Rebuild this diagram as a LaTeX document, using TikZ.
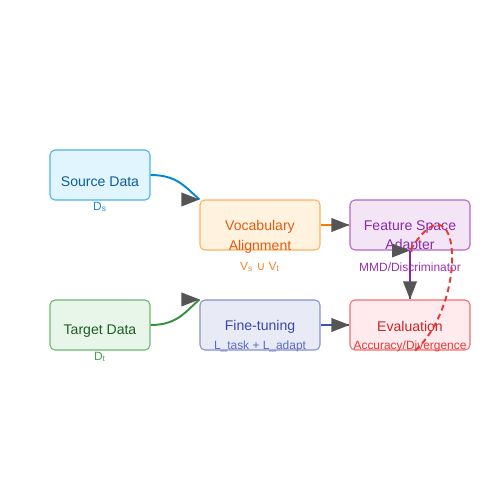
\documentclass[tikz,border=0pt]{standalone}
\usepackage{fontspec}
\setmainfont{Liberation Sans}
\newfontfamily\symfont{DejaVu Sans}
\usetikzlibrary{calc}
\definecolor{srcfill}{HTML}{E1F5FE}\definecolor{srcdraw}{HTML}{4FB0E6}\definecolor{srctxt}{HTML}{0D5C9A}\definecolor{srclab}{HTML}{1E88D6}\definecolor{srcline}{HTML}{0288D1}
\definecolor{vocfill}{HTML}{FFF3E0}\definecolor{vocdraw}{HTML}{FFB060}\definecolor{voctxt}{HTML}{E65A10}\definecolor{voclab}{HTML}{F5842A}\definecolor{vocline}{HTML}{F57C00}
\definecolor{fsafill}{HTML}{F3E5F5}\definecolor{fsadraw}{HTML}{B565C8}\definecolor{fsatxt}{HTML}{8A2BA8}\definecolor{fsalab}{HTML}{9C2FB0}\definecolor{fsaline}{HTML}{8E24AA}
\definecolor{tgtfill}{HTML}{E8F5E9}\definecolor{tgtdraw}{HTML}{6DB870}\definecolor{tgttxt}{HTML}{1E5E22}\definecolor{tgtlab}{HTML}{43A047}\definecolor{tgtline}{HTML}{388E3C}
\definecolor{ftfill}{HTML}{E8EAF6}\definecolor{ftdraw}{HTML}{8791D0}\definecolor{fttxt}{HTML}{3949AB}\definecolor{ftlab}{HTML}{5C6BC0}\definecolor{ftline}{HTML}{3F51B5}
\definecolor{evfill}{HTML}{FFEBEE}\definecolor{evdraw}{HTML}{EF6F6F}\definecolor{evtxt}{HTML}{C62828}\definecolor{evlab}{HTML}{E53935}\definecolor{evline}{HTML}{E53935}
\definecolor{headgray}{HTML}{555555}
\begin{document}
\begin{tikzpicture}[x=0.02cm,y=-0.02cm,
  box/.style={draw, rounded corners=2.8pt, line width=0.6pt, minimum width=2cm, minimum height=1cm, inner sep=0pt},
  wide/.style={minimum width=2.4cm},
  maintext/.style={font=\fontsize{8}{11.3}\selectfont, align=center, inner sep=0pt},
  sublabel/.style={font=\fontsize{6.8}{8}\selectfont, inner sep=0pt},
  head/.style={fill=headgray, draw=none},
  conn/.style={line width=1.1pt}]
\useasboundingbox (0,0) rectangle (500,500);
% boxes
\node[box, fill=srcfill, draw=srcdraw] (src) at (100,175) {};
\node[box, wide, fill=vocfill, draw=vocdraw] (voc) at (260,225) {};
\node[box, wide, fill=fsafill, draw=fsadraw] (fsa) at (410,225) {};
\node[box, fill=tgtfill, draw=tgtdraw] (tgt) at (100,325) {};
\node[box, wide, fill=ftfill, draw=ftdraw] (ft) at (260,325) {};
\node[box, wide, fill=evfill, draw=evdraw] (ev) at (410,325) {};
% texts
\node[maintext, text=srctxt] (srct) at (100,181.5) {Source Data};
\node[maintext, text=voctxt] (voct) at (260,236.5) {Vocabulary\\Alignment};
\node[maintext, text=fsatxt] (fsat) at (410,236.5) {Feature Space\\Adapter};
\node[maintext, text=tgttxt] (tgtt) at (100,331.5) {Target Data};
\node[maintext, text=fttxt] (ftt) at (260,326.5) {Fine-tuning};
\node[maintext, text=evtxt] (evt) at (410,326.5) {Evaluation};
% sub labels
\node[sublabel, text=srclab] (srcl) at (100,207) {D\textsubscript{s}};
\node[sublabel, text=voclab] (vocl) at (260,267) {V\textsubscript{s} {\symfont ∪} V\textsubscript{t}};
\node[sublabel, text=fsalab] (fsal) at (410,267) {MMD/Discriminator};
\node[sublabel, text=tgtlab] (tgtl) at (100,357) {D\textsubscript{t}};
\node[sublabel, text=ftlab] (ftl) at (260,346) {L\_task + L\_adapt};
\node[sublabel, text=evlab] (evl) at (410,346) {Accuracy/Divergence};
% connectors
\draw[conn, srcline] (src.east) .. controls +(27,0) and +(-14,-12) .. (voc.north west);
\draw[conn, tgtline] (tgt.east) .. controls +(27,0) and +(-14,12) .. (ft.north west);
\draw[conn, vocline] (voc.east) -- (fsa.west);
\draw[conn, ftline] (ft.east) -- (ev.west);
\draw[conn, fsaline] (fsa.south) -- (ev.north);
\draw[conn, evline, dash pattern=on 3.3pt off 2.2pt] ([xshift=3pt]ev.south) .. controls (470,300) and (460,170) .. (fsa.south);
% arrow heads
\fill[head] (voc.north west) -- ++(-18,-7) -- ++(0,14) -- cycle;
\fill[head] (ft.north west) -- ++(-18,-7) -- ++(0,14) -- cycle;
\fill[head] (fsa.west) -- ++(-18,-7) -- ++(0,14) -- cycle;
\fill[head] (ev.west) -- ++(-18,-7) -- ++(0,14) -- cycle;
\fill[head] (ev.north) -- ++(-7,-18) -- ++(14,0) -- cycle;
\fill[head] (fsa.south) -- ++(-18,-7) -- ++(0,14) -- cycle;
\end{tikzpicture}
\end{document}
